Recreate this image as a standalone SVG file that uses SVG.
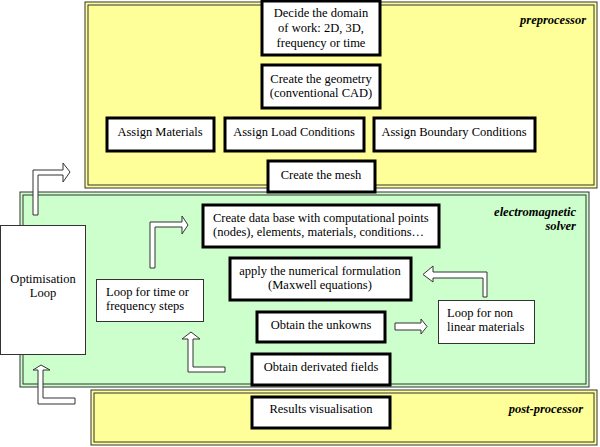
<svg xmlns="http://www.w3.org/2000/svg" width="600" height="447" viewBox="0 0 600 447">
<style>
text{font-family:"Liberation Serif","Times New Roman","DejaVu Serif",serif;font-size:12.5px;fill:#000}
.t{text-anchor:middle}
.lab{font-weight:bold;font-style:italic;text-anchor:end}
.thick{fill:#fff;stroke:#000;stroke-width:3}
.thin{fill:#fff;stroke:#333;stroke-width:1}
.arr{fill:#fff;stroke:#333;stroke-width:1}
.outer{stroke:#333;stroke-width:1}
</style>
<rect width="600" height="447" fill="#fff"/>
<g id="preprocessor">
<rect x="85" y="2" width="512" height="186" fill="#ffff99" class="outer"/>
<rect x="88" y="5" width="506" height="180" fill="none" class="outer" stroke-width="1.5"/>
<text class="lab" x="586" y="24">preprocessor</text>
</g>
<g id="solver">
<rect x="20" y="192" width="569" height="195" fill="#ccffcc" class="outer"/>
<rect x="23" y="195" width="563" height="189" fill="none" class="outer" stroke-width="1.5"/>
<text class="lab" x="576" y="216">electromagnetic</text>
<text class="lab" x="576" y="230">solver</text>
</g>
<g id="postprocessor">
<rect x="91" y="390" width="506" height="55" fill="#ffff99" class="outer"/>
<rect x="94" y="393" width="500" height="49" fill="none" class="outer" stroke-width="1.5"/>
<text class="lab" x="583" y="413">post-processor</text>
</g>
<g id="decide"><rect x="262" y="1" width="118" height="54" class="thick"/>
<text class="t" x="321" y="17">Decide the domain</text><text class="t" x="321" y="32">of work: 2D, 3D,</text><text class="t" x="321" y="47">frequency or time</text></g>
<g id="geometry"><rect x="262" y="65" width="118" height="43" class="thick"/>
<text class="t" x="321" y="83">Create the geometry</text><text class="t" x="321" y="97">(conventional CAD)</text></g>
<g id="materials"><rect x="107" y="118" width="107" height="33" class="thick"/><text class="t" x="160" y="136">Assign Materials</text></g>
<g id="load"><rect x="225" y="118" width="139" height="33" class="thick"/><text class="t" x="294" y="136">Assign Load Conditions</text></g>
<g id="boundary"><rect x="374" y="118" width="161" height="33" class="thick"/><text class="t" x="454" y="136">Assign Boundary Conditions</text></g>
<g id="mesh"><rect x="268" y="161" width="107" height="31" class="thick"/><text class="t" x="321" y="179">Create the mesh</text></g>
<g id="database"><rect x="203" y="205" width="236" height="42" class="thick"/>
<text x="213" y="222">Create data base with computational points</text><text x="213" y="236">(nodes), elements, materials, conditions…</text></g>
<g id="formulation"><rect x="230" y="258" width="181" height="42" class="thick"/>
<text class="t" x="320" y="275">apply the numerical formulation</text><text class="t" x="320" y="289">(Maxwell equations)</text></g>
<g id="unknowns"><rect x="257" y="312" width="128" height="30" class="thick"/><text class="t" x="321" y="329">Obtain the unkowns</text></g>
<g id="derived"><rect x="252" y="354" width="138" height="31" class="thick"/><text class="t" x="321" y="371">Obtain derivated fields</text></g>
<g id="results"><rect x="252" y="397" width="138" height="31" class="thick"/><text class="t" x="321" y="413">Results visualisation</text></g>
<g id="timeloop"><rect x="96.5" y="279.5" width="107" height="42" class="thin"/>
<text x="106" y="296">Loop for time or</text><text x="106" y="310">frequency steps</text></g>
<g id="nonlinear"><rect x="438.5" y="300.5" width="96" height="43" class="thin"/>
<text x="447" y="317">Loop for non</text><text x="447" y="331">linear materials</text></g>
<g id="optim"><rect x="0.5" y="225.5" width="85" height="129" class="thin"/>
<text class="t" x="43" y="283">Optimisation</text><text class="t" x="43" y="297">Loop</text></g>
<g id="connectors">
<polygon class="arr" points="33,215 38,215 38,175 63,175 63,182 70,172 63,163 63,170 33,170"/>
<polygon class="arr" points="150,268 155,268 155,227 182,227 182,234 188,225 182,216 182,222 150,222"/>
<polygon class="arr" points="188,372 225,372 225,367 193,367 193,339 200,339 191,332 182,339 188,339"/>
<polygon class="arr" points="38,404 75,404 75,398 43,398 43,370 50,370 41,365 33,370 38,370"/>
<polygon class="arr" points="395,323 421,323 421,319 427,326.5 421,334 421,330 395,330"/>
<polygon class="arr" points="483,297 487,297 487,272 433,272 433,266 423,274.5 433,282 433,278 483,278"/>
</g>
</svg>
